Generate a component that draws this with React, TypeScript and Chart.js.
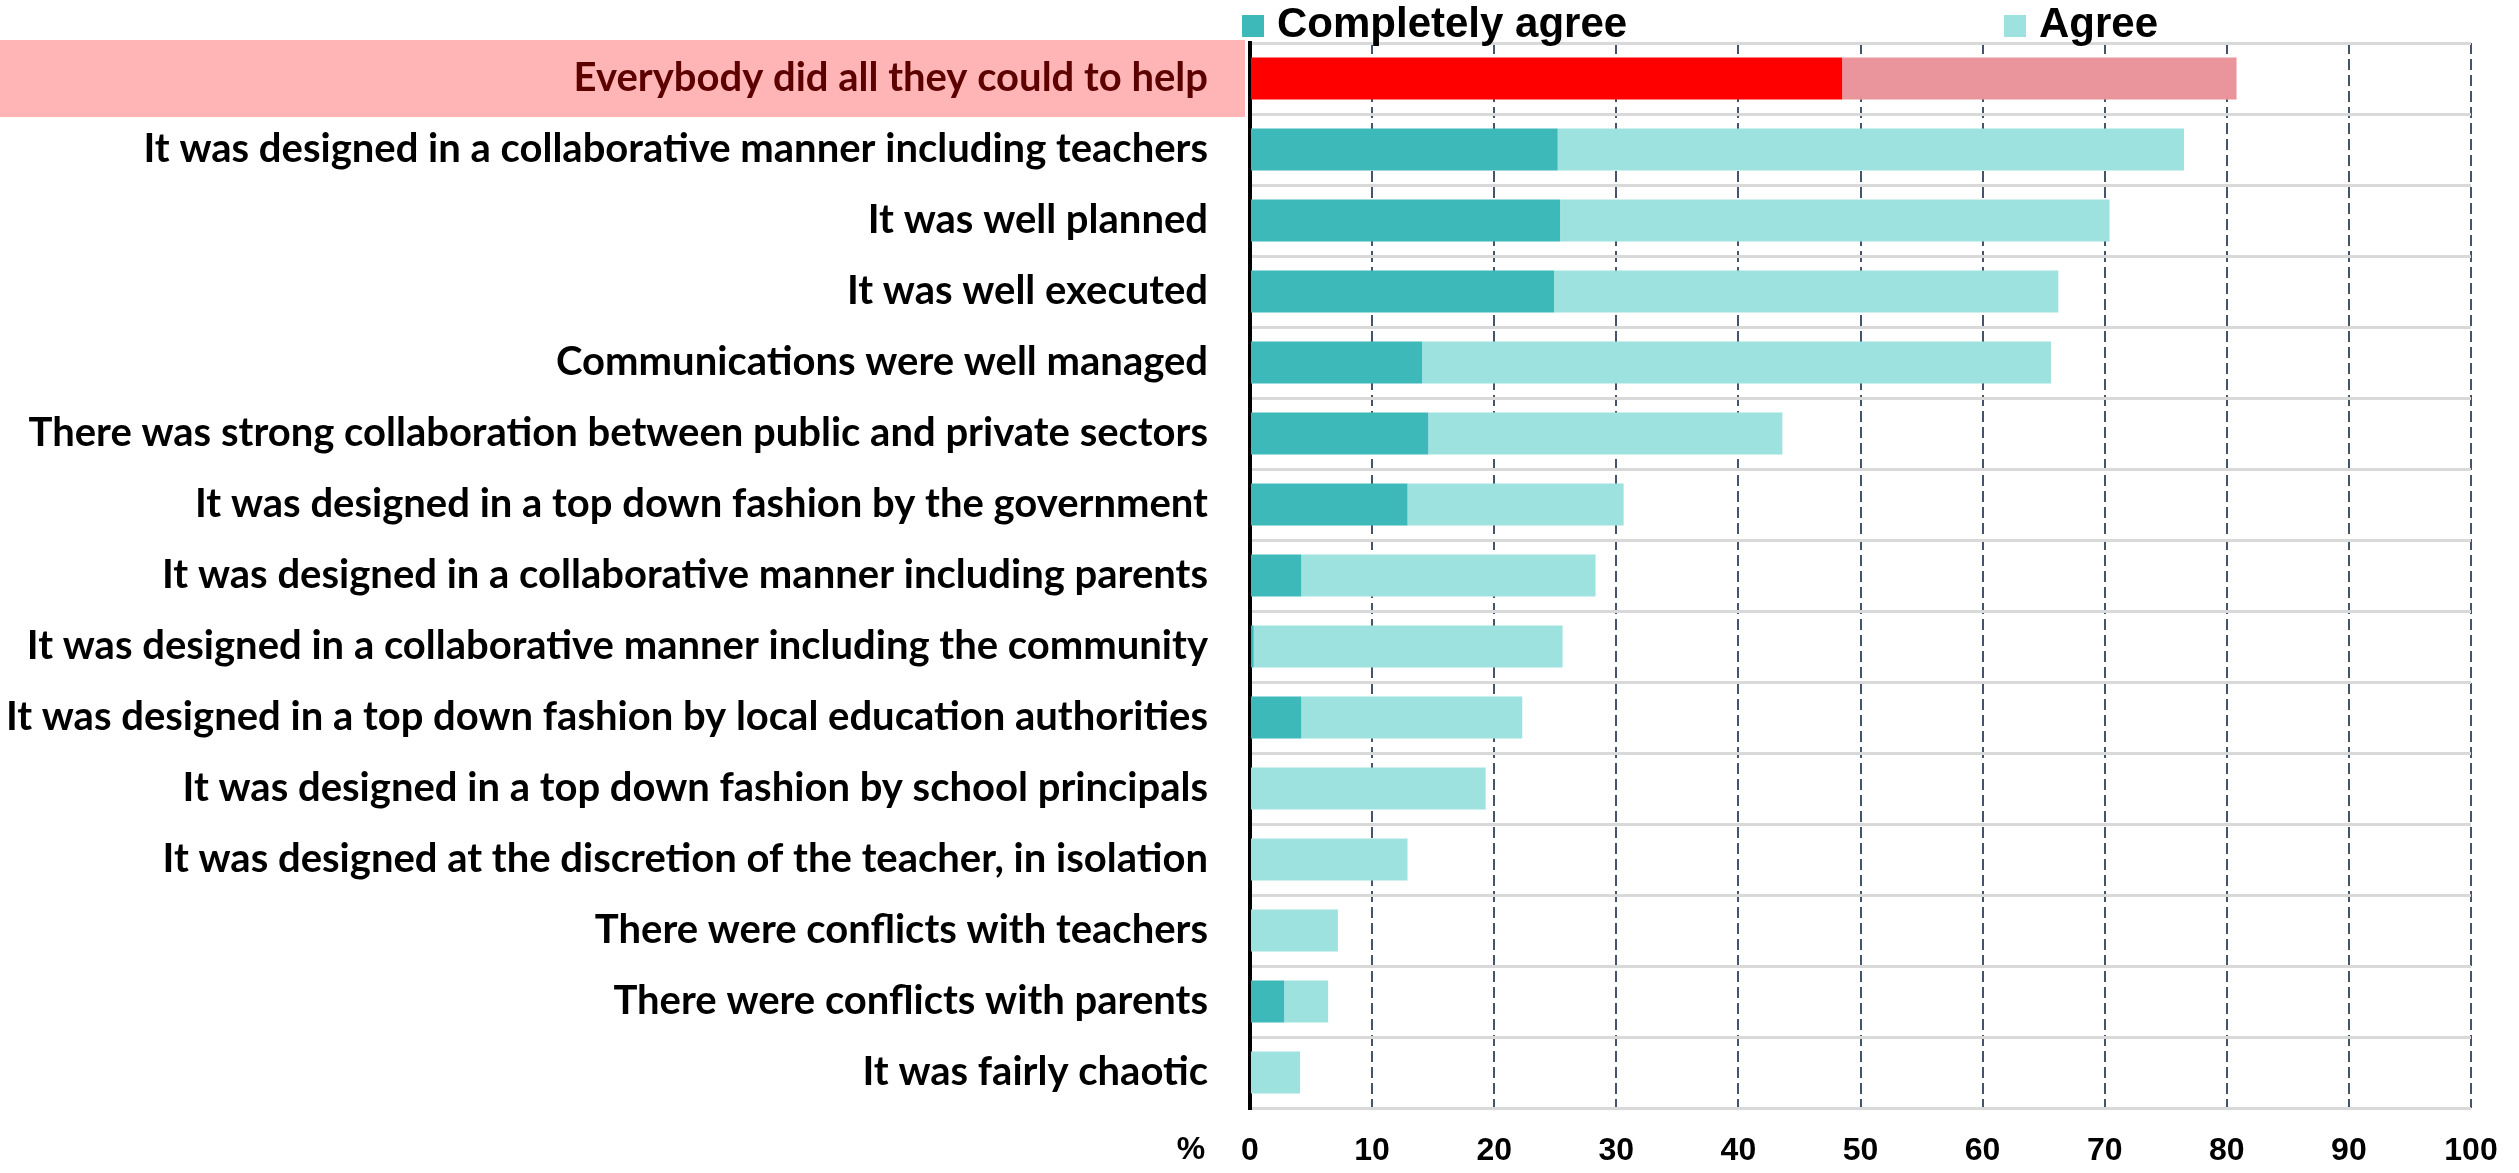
import React, { useEffect, useRef } from 'react';
import { Chart, registerables } from 'chart.js';

Chart.register(...registerables);

const categories = [
  'Everybody did all they could to help',
  'It was designed in a collaborative manner including teachers',
  'It was well planned',
  'It was well executed',
  'Communications were well managed',
  'There was strong collaboration between public and private sectors',
  'It was designed in a top down fashion by the government',
  'It was designed in a collaborative manner including parents',
  'It was designed in a collaborative manner including the community',
  'It was designed in a top down fashion by local education authorities',
  'It was designed in a top down fashion by school principals',
  'It was designed at the discretion of the teacher, in isolation',
  'There were conflicts with teachers',
  'There were conflicts with parents',
  'It was fairly chaotic',
];

const seriesNames = ['Completely agree', 'Agree'];
const completelyAgree = [48.5, 25.2, 25.4, 24.9, 14.1, 14.6, 12.9, 4.2, 0.3, 4.2, 0, 0, 0, 2.8, 0];
const agree = [32.3, 51.3, 45.0, 41.3, 51.5, 29.0, 17.7, 24.1, 25.3, 18.1, 19.3, 12.9, 7.2, 3.6, 4.1];
const xTicks = [0, 10, 20, 30, 40, 50, 60, 70, 80, 90, 100];
const axisUnit = '%';
const highlightIndex = 0;

const DARK = '#3DB9B9';
const LIGHT = '#9EE2DF';
const HL_DARK = '#FF0000';
const HL_LIGHT = '#EA959B';
const HL_BOX = '#FFB5B5';
const HL_TEXT = '#5C0000';

const W = 2519;
const H = 1173;

const decorPlugin = {
  id: 'decor',
  beforeDraw(chart: any) {
    const { ctx, chartArea } = chart;
    const y = chart.scales.y.getPixelForValue(highlightIndex);
    ctx.save();
    ctx.fillStyle = HL_BOX;
    ctx.fillRect(0, y - 38.5, chartArea.left - 5, 77);
    ctx.restore();
  },
  afterDraw(chart: any) {
    const { ctx, chartArea } = chart;
    ctx.save();
    const xs = [1242, 2004];
    chart.data.datasets.forEach((ds: any, i: number) => {
      ctx.fillStyle = ds.legendColor;
      ctx.fillRect(xs[i], 15, 22, 22);
      ctx.fillStyle = '#000';
      ctx.font = 'bold 42px "Liberation Sans", Arial, sans-serif';
      ctx.textBaseline = 'alphabetic';
      ctx.textAlign = 'left';
      ctx.fillText(ds.label, xs[i] + 35, 37);
    });
    ctx.font = 'bold 32px "Liberation Sans", Arial, sans-serif';
    ctx.textAlign = 'center';
    ctx.textBaseline = 'middle';
    ctx.fillStyle = '#000';
    ctx.fillText(axisUnit, chartArea.left - 59, 1150);
    ctx.restore();
  },
};

export default function App() {
  const ref = useRef<HTMLCanvasElement | null>(null);
  useEffect(() => {
    if (!ref.current) return;
    const chart = new Chart(ref.current, {
      type: 'bar',
      data: {
        labels: categories,
        datasets: [
          {
            label: seriesNames[0],
            data: completelyAgree,
            backgroundColor: categories.map((_, i) => (i === highlightIndex ? HL_DARK : DARK)),
            legendColor: DARK,
            barPercentage: 0.59,
            categoryPercentage: 1,
          } as any,
          {
            label: seriesNames[1],
            data: agree,
            backgroundColor: categories.map((_, i) => (i === highlightIndex ? HL_LIGHT : LIGHT)),
            legendColor: LIGHT,
            barPercentage: 0.59,
            categoryPercentage: 1,
          } as any,
        ],
      },
      options: {
        indexAxis: 'y',
        responsive: false,
        animation: false,
        devicePixelRatio: 1,
        layout: { padding: { top: 43, right: 48, left: 0, bottom: 0 } },
        plugins: {
          legend: { display: false },
          tooltip: { enabled: false },
        },
        scales: {
          x: {
            type: 'linear',
            stacked: true,
            min: 0,
            max: 100,
            afterBuildTicks: (scale: any) => {
              scale.ticks = xTicks.map((v) => ({ value: v }));
            },
            afterFit: (scale: any) => {
              scale.height = 65;
              scale.paddingLeft = 0;
              scale.paddingRight = 0;
            },
            grid: {
              color: '#44546A',
              lineWidth: 2,
              drawTicks: false,
            },
            border: { display: false, dash: [11, 5] },
            ticks: {
              color: '#000',
              padding: 24,
              font: { family: '"Liberation Sans", Arial, sans-serif', size: 32, weight: 'bold' },
            },
          },
          y: {
            type: 'category',
            stacked: true,
            afterFit: (scale: any) => {
              scale.width = 1250;
              scale.paddingTop = 0;
              scale.paddingBottom = 0;
            },
            grid: {
              color: '#D9D9D9',
              lineWidth: 3,
              drawTicks: false,
              offset: true,
            },
            border: { display: true, color: '#000', width: 4 },
            ticks: {
              padding: 42,
              autoSkip: false,
              color: (ctx: any) => (ctx.index === highlightIndex ? HL_TEXT : '#000'),
              font: { family: 'Lato, "Noto Sans", sans-serif', size: 40, weight: 'bold' },
            },
          },
        },
      },
      plugins: [decorPlugin],
    } as any);
    return () => chart.destroy();
  }, []);
  return (
    <div style={{ position: 'absolute', left: 0, top: 0, width: W, height: H, background: '#fff' }}>
      <canvas ref={ref} width={W} height={H} style={{ width: W, height: H, display: 'block' }} />
    </div>
  );
}
